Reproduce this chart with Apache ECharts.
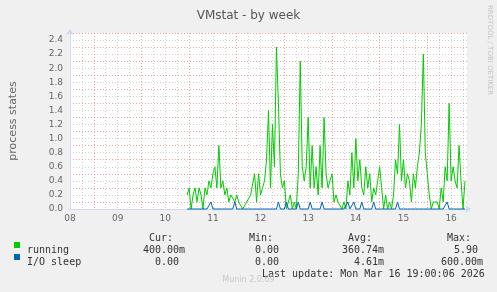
<!DOCTYPE html>
<html>
<head>
<meta charset="utf-8">
<script src="https://cdn.jsdelivr.net/npm/echarts@6/dist/echarts.min.js"></script>
<style>
html,body{margin:0;padding:0;background:#f0f0f0;}
#c{width:497px;height:292px;}
</style>
</head>
<body>
<div id="c"></div>
<script>
// hours counted from day "08" 00:00, one sample per hour
const startHour = 59;
const dayLabels = ['08','09','10','11','12','13','14','15','16'];
const yLabels = ['0.0','0.2','0.4','0.6','0.8','1.0','1.2','1.4','1.6','1.8','2.0','2.2','2.4'];
const running = [
  0.2,0.3,0.0,0.2,0.3,0.1,0.3,0.2,0.0,0.3,
  0.2,0.4,0.3,0.5,0.6,0.3,0.9,0.3,0.4,0.2,
  0.3,0.1,0.2,0.2,0.1,0.2,0.1,0.1,0.0,0.0,
  0.1,0.1,0.2,0.2,0.5,0.1,0.5,0.2,0.3,0.4,
  0.7,1.4,0.3,1.2,0.6,2.3,1.5,0.5,0.3,0.4,
  0.0,0.1,0.2,0.0,0.1,0.0,0.5,2.1,0.6,0.4,
  0.6,1.3,0.3,0.9,0.3,0.6,0.2,0.9,0.3,1.3,
  0.5,0.3,0.4,0.5,0.1,0.2,0.1,0.1,0.0,0.1,
  0.0,0.4,0.2,0.8,0.3,1.0,0.4,0.7,0.3,0.2,
  0.6,0.3,0.5,0.1,0.3,0.2,0.4,0.6,0.3,0.0,
  0.2,0.0,0.1,0.0,0.2,0.7,0.5,1.2,0.4,0.7,
  0.3,0.5,0.4,0.1,0.5,0.3,0.6,0.8,1.2,2.2,
  0.8,0.5,0.2,0.0,0.1,0.1,0.1,0.0,0.3,0.1,
  0.6,0.4,1.5,0.4,0.6,0.4,0.3,0.9,0.4,0.0,0.4
];
const ioSleep = [
  0,0,0,0,0,0,0,0,0,0,
  0,0,0.1,0,0,0,0,0,0,0,
  0,0,0,0,0.1,0,0,0,0,0,
  0,0,0,0,0,0,0,0,0,0,
  0,0,0,0,0,0,0.1,0,0,0,
  0.1,0,0,0,0,0,0.1,0,0,0,
  0,0,0.1,0,0,0,0,0,0.1,0,
  0,0,0,0,0,0,0,0,0,0,
  0,0.1,0,0,0.1,0,0,0,0.1,0,
  0,0,0,0,0.1,0,0,0,0,0,
  0,0,0,0,0,0,0.1,0,0,0,
  0,0,0,0,0,0,0,0,0,0,
  0,0,0,0,0,0,0,0,0,0,
  0,0.1,0,0,0,0,0,0,0,0,0
];
const legendHeaders = [['Cur:',149],['Min:',249],['Avg:',348],['Max:',447]];
const runningStats = [['400.00m',143],['0.00',255],['360.74m',342],['5.90',454]];
const ioStats = [['0.00',155],['0.00',255],['4.61m',354],['600.00m',441]];

const AXIS = '#cfd6f8';
const FONT = '#666666';
const MINOR = 'rgba(150,150,150,0.45)';
const MAJOR = 'rgba(230,80,80,0.55)';
const mono = '"DejaVu Sans Mono", monospace';
const sans = '"DejaVu Sans", sans-serif';

const chart = echarts.init(document.getElementById('c'), null, {renderer:'canvas'});
const toPairs = arr => arr.map((v,i)=>[startHour+i, v]);

const graphics = [];
function txt(x,y,s,opt){
  graphics.push({type:'text', left:x, top:y, silent:true,
    style:Object.assign({text:s, fill:'#333', font:'10px '+mono, textVerticalAlign:'middle'}, opt||{})});
}
legendHeaders.forEach(([s,x])=>txt(x,233,s));
txt(27,245,'running');
txt(27,257,'I/O sleep');
runningStats.forEach(([s,x])=>txt(x,245,s));
ioStats.forEach(([s,x])=>txt(x,257,s));
txt(262,269,'Last update: Mon Mar 16 19:00:06 2026');
graphics.push({type:'rect', shape:{x:14,y:242,width:6,height:6}, style:{fill:'#00cc00'}, silent:true});
graphics.push({type:'rect', shape:{x:14,y:254,width:6,height:6}, style:{fill:'#0066b3'}, silent:true});
graphics.push({type:'text', left:'center', top:276, silent:true,
  style:{text:'Munin 2.0.69', fill:'#c8c8c8', font:'8px '+sans}});
graphics.push({type:'text', x:493, y:5, rotation:-Math.PI/2, silent:true,
  style:{text:'RRDTOOL / TOBI OETIKER', fill:'#c4c4c4', font:'7px '+sans}});

chart.setOption({
  animation:false,
  backgroundColor:'#f0f0f0',
  title:{text:'VMstat - by week', left:'center', top:5,
    textStyle:{color:'#555', fontFamily:sans, fontSize:12, fontWeight:'normal'}},
  grid:{left:67, top:33, width:400, height:176, show:true, backgroundColor:'#ffffff', borderWidth:0},
  xAxis:{type:'value', min:0, max:200, interval:6,
    axisLine:{show:true, lineStyle:{color:AXIS, width:1}, symbol:['none','arrow'], symbolSize:[6,6], symbolOffset:[0,4]},
    axisTick:{show:false},
    axisLabel:{color:FONT, fontFamily:sans, fontSize:9, margin:5, showMaxLabel:false,
      formatter:v=> (v%24===0 && dayLabels[v/24]!==undefined) ? dayLabels[v/24] : ''},
    splitLine:{show:true, showMaxLine:false, lineStyle:{color:[MINOR,MINOR,MAJOR,MINOR], type:[1,2], width:1}}
  },
  yAxis:{type:'value', min:0, max:2.5, interval:0.1,
    name:'process states', nameLocation:'middle', nameGap:51, nameRotate:90,
    nameTextStyle:{color:FONT, fontFamily:sans, fontSize:11},
    axisLine:{show:true, lineStyle:{color:AXIS, width:1}, symbol:['none','arrow'], symbolSize:[6,6], symbolOffset:[0,4]},
    axisTick:{show:false},
    axisLabel:{color:FONT, fontFamily:sans, fontSize:9, margin:7,
      formatter:v=>{const k=Math.round(v*10); return (k%2===0 && yLabels[k/2]!==undefined)? yLabels[k/2] : '';}},
    splitLine:{show:true, showMinLine:false, lineStyle:{color:[MAJOR,MINOR], type:[1,2], width:1}}
  },
  series:[
    {name:'running', type:'line', data:toPairs(running), showSymbol:false, clip:false,
      lineStyle:{color:'#00cc00', width:1}, itemStyle:{color:'#00cc00'}, z:3},
    {name:'I/O sleep', type:'line', data:toPairs(ioSleep), showSymbol:false, clip:false,
      lineStyle:{color:'#0066b3', width:1}, itemStyle:{color:'#0066b3'}, z:4}
  ],
  graphic:graphics
});
</script>
</body>
</html>
